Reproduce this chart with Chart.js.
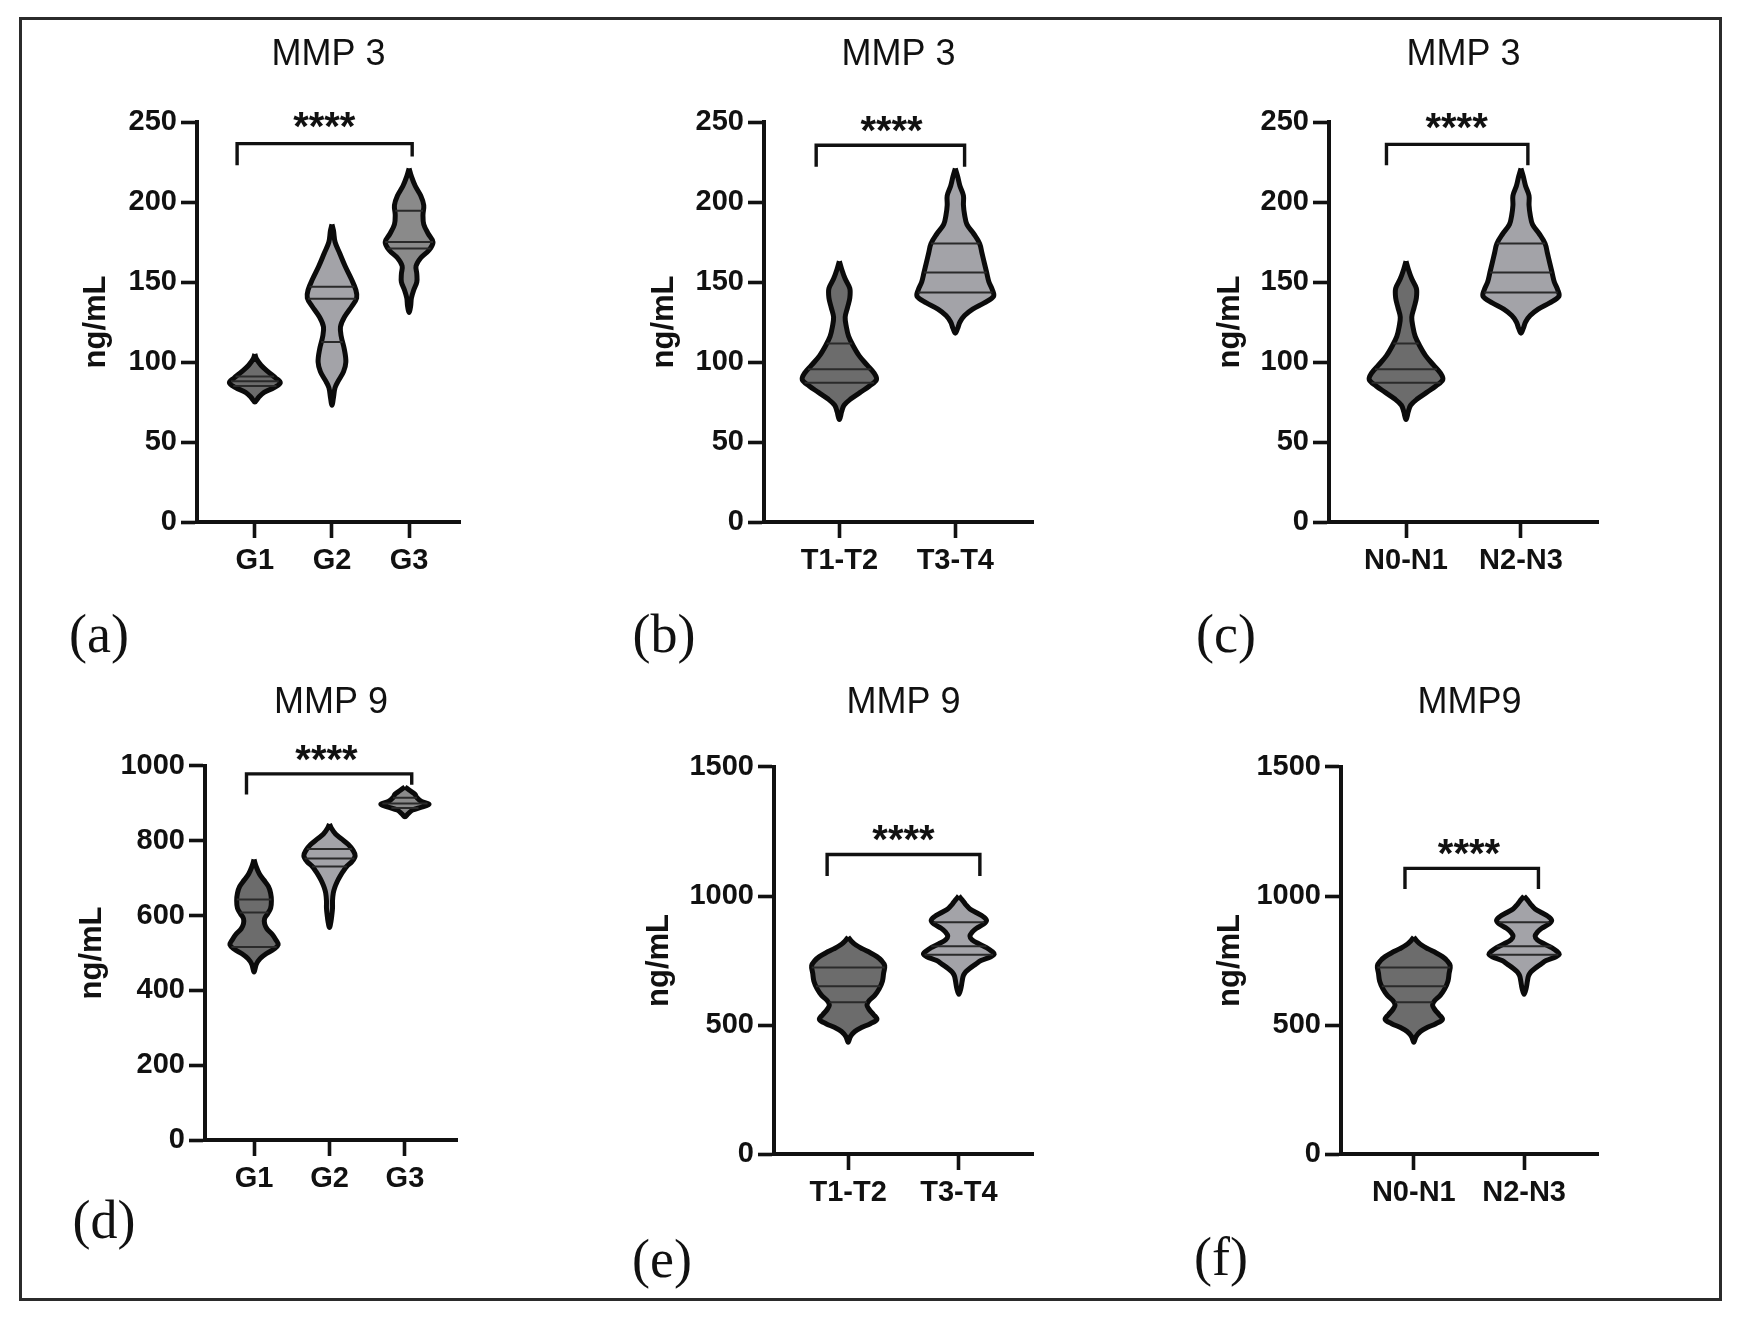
<!DOCTYPE html>
<html>
<head>
<meta charset="utf-8">
<script src="https://cdn.jsdelivr.net/npm/chart.js@4.4.1/dist/chart.umd.min.js"></script>
<style>
  body { margin: 0; background: #fff; width: 1741px; height: 1330px; position: relative; overflow: hidden; }
  .frame { position: absolute; left: 19px; top: 17px; width: 1703px; height: 1284px; border: 3px solid #2b2b2b; box-sizing: border-box; }
  .panel { position: absolute; }
  .tag { position: absolute; font-family: "Liberation Serif", "Times New Roman", serif; font-size: 54px; color: #111; transform: translate(-50%, -50%); line-height: 1; white-space: nowrap; }
</style>
</head>
<body>
<div class="frame"></div>
<canvas class="panel" id="pa"></canvas>
<canvas class="panel" id="pb"></canvas>
<canvas class="panel" id="pc"></canvas>
<canvas class="panel" id="pd"></canvas>
<canvas class="panel" id="pe"></canvas>
<canvas class="panel" id="pf"></canvas>
<div class="tag" style="left:99px;top:634px">(a)</div>
<div class="tag" style="left:664px;top:634px">(b)</div>
<div class="tag" style="left:1226px;top:634px">(c)</div>
<div class="tag" style="left:104px;top:1220px">(d)</div>
<div class="tag" style="left:662px;top:1259px">(e)</div>
<div class="tag" style="left:1221px;top:1257px">(f)</div>
<script>
// category labels
const gradeLabels = ["G1", "G2", "G3"];
const tLabels = ["T1-T2", "T3-T4"];
const nLabels = ["N0-N1", "N2-N3"];

// violin outlines: [ng/mL, half width in category units], top to bottom
const mmp3G1 = [[105,0],[102,0.02],[98,0.08],[94,0.17],[90,0.27],[87,0.33],[84,0.25],[81,0.12],[78,0.05],[75,0]];
const mmp3G2 = [[186,0],[182,0.02],[175,0.04],[168,0.1],[160,0.17],[152,0.25],[145,0.31],[140,0.32],[135,0.26],[128,0.16],[122,0.11],[116,0.12],[108,0.16],[100,0.18],[94,0.15],[88,0.08],[84,0.04],[78,0.02],[73,0]];
const mmp3G3 = [[221,0],[216,0.03],[210,0.08],[204,0.15],[198,0.19],[192,0.18],[186,0.19],[180,0.25],[175,0.31],[170,0.26],[165,0.15],[160,0.09],[155,0.1],[150,0.1],[145,0.06],[140,0.03],[135,0.02],[131,0]];
const mmp3T12 = [[163,0],[158,0.02],[152,0.05],[146,0.09],[140,0.09],[134,0.07],[128,0.05],[122,0.06],[116,0.08],[110,0.12],[104,0.17],[98,0.24],[93,0.3],[89,0.32],[85,0.26],[81,0.18],[77,0.1],[73,0.04],[69,0.02],[64,0]];
const mmp3T34 = [[221,0],[216,0.02],[210,0.04],[204,0.07],[198,0.07],[192,0.08],[186,0.1],[180,0.16],[174,0.21],[168,0.23],[162,0.25],[156,0.27],[150,0.29],[145,0.32],[141,0.33],[137,0.25],[133,0.15],[129,0.08],[125,0.04],[121,0.02],[118,0]];
const mmp3N01 = [[163,0],[158,0.02],[152,0.05],[146,0.09],[140,0.09],[134,0.07],[128,0.05],[122,0.06],[116,0.08],[110,0.12],[104,0.17],[98,0.24],[93,0.3],[89,0.32],[85,0.26],[81,0.18],[77,0.1],[73,0.04],[69,0.02],[64,0]];
const mmp3N23 = [[221,0],[216,0.02],[210,0.04],[204,0.07],[198,0.07],[192,0.08],[186,0.1],[180,0.16],[174,0.21],[168,0.23],[162,0.25],[156,0.27],[150,0.29],[145,0.32],[141,0.33],[137,0.25],[133,0.15],[129,0.08],[125,0.04],[121,0.02],[118,0]];
const mmp9G1 = [[750,0],[730,0.03],[712,0.07],[695,0.13],[678,0.19],[660,0.22],[640,0.23],[620,0.22],[605,0.18],[592,0.14],[578,0.14],[565,0.17],[550,0.24],[535,0.29],[522,0.32],[510,0.26],[498,0.16],[485,0.08],[470,0.03],[449,0]];
const mmp9G2 = [[845,0],[832,0.03],[818,0.08],[805,0.16],[790,0.25],[775,0.31],[760,0.34],[745,0.3],[732,0.23],[718,0.18],[705,0.14],[690,0.1],[675,0.07],[660,0.05],[640,0.04],[620,0.04],[600,0.03],[585,0.02],[568,0]];
const mmp9G3 = [[944,0],[935,0.06],[925,0.13],[915,0.16],[905,0.22],[898,0.32],[890,0.22],[882,0.1],[872,0.04],[864,0]];
const mmp9T12 = [[841,0],[825,0.03],[810,0.07],[795,0.13],[780,0.2],[765,0.26],[750,0.3],[730,0.33],[700,0.32],[670,0.31],[640,0.28],[615,0.24],[595,0.19],[578,0.17],[560,0.19],[540,0.23],[522,0.26],[505,0.2],[490,0.12],[475,0.06],[455,0.02],[433,0]];
const mmp9T34 = [[1000,0],[985,0.03],[968,0.06],[950,0.1],[935,0.16],[920,0.22],[905,0.25],[890,0.22],[875,0.16],[860,0.12],[845,0.1],[830,0.12],[815,0.18],[800,0.25],[785,0.3],[775,0.32],[765,0.29],[750,0.2],[735,0.15],[720,0.1],[705,0.06],[690,0.04],[670,0.03],[645,0.02],[619,0]];
const mmp9N01 = [[841,0],[825,0.03],[810,0.07],[795,0.13],[780,0.2],[765,0.26],[750,0.3],[730,0.33],[700,0.32],[670,0.31],[640,0.28],[615,0.24],[595,0.19],[578,0.17],[560,0.19],[540,0.23],[522,0.26],[505,0.2],[490,0.12],[475,0.06],[455,0.02],[433,0]];
const mmp9N23 = [[1000,0],[985,0.03],[968,0.06],[950,0.1],[935,0.16],[920,0.22],[905,0.25],[890,0.22],[875,0.16],[860,0.12],[845,0.1],[830,0.12],[815,0.18],[800,0.25],[785,0.3],[775,0.32],[765,0.29],[750,0.2],[735,0.15],[720,0.1],[705,0.06],[690,0.04],[670,0.03],[645,0.02],[619,0]];

// quartile lines (Q3, median, Q1): [ng/mL, half width]
const mmp3G1Q = [[91,0.25],[88,0.31],[85,0.28]];
const mmp3G2Q = [[147,0.29],[139.5,0.31],[112.5,0.14]];
const mmp3G3Q = [[194.5,0.18],[175,0.31],[171,0.28]];
const mmp3T12Q = [[111.5,0.11],[95.5,0.27],[87,0.3]];
const mmp3T34Q = [[174,0.21],[156,0.27],[143.5,0.32]];
const mmp9G1Q = [[643,0.23],[608,0.19],[516,0.3]];
const mmp9G2Q = [[778,0.3],[753,0.33],[731,0.23]];
const mmp9G3Q = [[915,0.16],[900,0.3],[888,0.18]];
const mmp9T12Q = [[723,0.33],[650,0.29],[588,0.17]];
const mmp9T34Q = [[898,0.23],[805,0.25],[772,0.31]];

// significance brackets [category, ng/mL] and star positions
const sigA = [[0.77,223],[0.77,236.5],[3.04,236.5],[3.04,228.5]];
const sigB = [[0.8,222],[0.8,235.5],[2.08,235.5],[2.08,222]];
const sigC = [[0.83,223],[0.83,236],[2.06,236],[2.06,223]];
const sigD = [[0.9,924],[0.9,979],[3.09,979],[3.09,950]];
const sigE = [[0.81,1078],[0.81,1161],[2.19,1161],[2.19,1078]];
const sigF = [[0.92,1027],[0.92,1107],[2.13,1107],[2.13,1027]];
const starsA = [1.9, 251];
const starsB = [1.45, 249];
const starsC = [1.44, 250.5];
const starsD = [1.96, 1034];
const starsE = [1.5, 1243];
const starsF = [1.5, 1190];

const DARK = '#6c6c6c', LIGHT = '#a3a3a8', MID = '#8a8a8a';
const SANS = '"Liberation Sans", Arial, sans-serif';
Chart.defaults.font.family = SANS;
Chart.defaults.color = '#111';

const starsPlugin = {
  id: 'stars',
  afterDatasetsDraw(chart, args, opts) {
    const { ctx, scales: { x, y } } = chart;
    ctx.save();
    ctx.font = 'bold 40px ' + SANS;
    ctx.fillStyle = '#111';
    ctx.textAlign = 'center';
    ctx.textBaseline = 'middle';
    ctx.fillText('****', x.getPixelForValue(opts.pos[0]), y.getPixelForValue(opts.pos[1]) + 9);
    ctx.restore();
  }
};

function violinPoints(profile, c) {
  const left = profile.map(([v, w]) => ({ x: c - w, y: v }));
  const right = profile.slice(0, -1).reverse().map(([v, w]) => ({ x: c + w, y: v }));
  return left.concat(right);
}

function quartilePoints(q, c) {
  const pts = [];
  q.forEach(([v, w]) => { pts.push({ x: c - w, y: v }, { x: c + w, y: v }, { x: c, y: null }); });
  return pts;
}

function makePanel(id, g, cfg) {
  const [bx, by, bw, bh] = g.box;
  const canvas = document.getElementById(id);
  canvas.width = bw; canvas.height = bh;
  canvas.style.left = bx + 'px'; canvas.style.top = by + 'px';
  const titleLH = 36 * 1.2, ylabLH = 31 * 1.2, xH = 62;
  const padL = g.labelX - ylabLH / 2 - bx;
  const yW = g.left - bx - padL;
  const padT = g.titleY - titleLH / 2 - by;

  const datasets = [];
  cfg.violins.forEach((v, i) => {
    datasets.push({
      data: violinPoints(v.profile, i + 1), backgroundColor: v.color, borderColor: '#0b0b0b',
      borderWidth: 5, fill: 'shape', tension: 0.35, pointRadius: 0, borderJoinStyle: 'round', order: 2, clip: false
    });
    datasets.push({
      data: quartilePoints(v.quart, i + 1), borderColor: '#2a2a2a', borderWidth: 2,
      fill: false, tension: 0, pointRadius: 0, spanGaps: false, order: 1, clip: false
    });
  });
  datasets.push({
    data: cfg.sig.map(([x, y]) => ({ x, y })), borderColor: '#111', borderWidth: 3.4,
    fill: false, tension: 0, pointRadius: 0, order: 0, clip: false
  });

  new Chart(canvas, {
    type: 'line',
    data: { datasets },
    plugins: [starsPlugin],
    options: {
      responsive: false, animation: false, events: [],
      layout: { padding: { left: padL, top: padT, right: bx + bw - g.right, bottom: by + bh - g.bottom - xH } },
      plugins: {
        legend: { display: false }, tooltip: { enabled: false },
        title: { display: true, text: cfg.title, fullSize: false, color: '#111',
          font: { size: 36, weight: 'normal', lineHeight: 1.2 },
          padding: { top: 0, bottom: g.top - g.titleY - titleLH / 2 } },
        stars: { pos: cfg.stars }
      },
      scales: {
        x: {
          type: 'linear', min: cfg.xmin, max: cfg.xmax,
          afterBuildTicks: s => { s.ticks = cfg.labels.map((_, i) => ({ value: i + 1 })); },
          afterFit: s => { s.height = xH; },
          ticks: { autoSkip: false, maxRotation: 0, padding: 6, color: '#111',
            font: { size: 29, weight: 'bold' }, callback: v => cfg.labels[v - 1] },
          grid: { display: true, drawOnChartArea: false, drawTicks: true, tickLength: 16, tickWidth: 3.6, tickColor: '#111' },
          border: { display: true, color: '#111', width: 4 }
        },
        y: {
          min: 0, max: cfg.ymax,
          afterFit: s => { s.width = yW; },
          ticks: { stepSize: cfg.ystep, padding: 4, color: '#111', font: { size: 29, weight: 'bold' },
            callback: v => String(v) },
          grid: { display: true, drawOnChartArea: false, drawTicks: true, tickLength: 16, tickWidth: 3.6, tickColor: '#111' },
          border: { display: true, color: '#111', width: 4 },
          title: { display: true, text: 'ng/mL', color: '#111', padding: { top: 0, bottom: 0 },
            font: { size: 31, weight: 'bold', lineHeight: 1.2 } }
        }
      }
    }
  });
}

makePanel('pa', { box: [30, 20, 540, 600], left: 197, right: 460, top: 122, bottom: 522, titleY: 55.5, labelX: 96 }, {
  title: 'MMP 3', labels: gradeLabels, xmin: 0.25, xmax: 3.66, ymax: 250, ystep: 50,
  violins: [{ profile: mmp3G1, quart: mmp3G1Q, color: DARK }, { profile: mmp3G2, quart: mmp3G2Q, color: LIGHT }, { profile: mmp3G3, quart: mmp3G3Q, color: MID }],
  sig: sigA, stars: starsA
});
makePanel('pb', { box: [600, 20, 540, 600], left: 764, right: 1033, top: 122, bottom: 522, titleY: 55.5, labelX: 664 }, {
  title: 'MMP 3', labels: tLabels, xmin: 0.35, xmax: 2.67, ymax: 250, ystep: 50,
  violins: [{ profile: mmp3T12, quart: mmp3T12Q, color: DARK }, { profile: mmp3T34, quart: mmp3T34Q, color: LIGHT }],
  sig: sigB, stars: starsB
});
makePanel('pc', { box: [1165, 20, 550, 600], left: 1329, right: 1598, top: 122, bottom: 522, titleY: 55.5, labelX: 1230 }, {
  title: 'MMP 3', labels: nLabels, xmin: 0.33, xmax: 2.67, ymax: 250, ystep: 50,
  violins: [{ profile: mmp3N01, quart: mmp3T12Q, color: DARK }, { profile: mmp3N23, quart: mmp3T34Q, color: LIGHT }],
  sig: sigC, stars: starsC
});
makePanel('pd', { box: [30, 660, 540, 580], left: 205, right: 457, top: 766, bottom: 1140, titleY: 703, labelX: 92 }, {
  title: 'MMP 9', labels: gradeLabels, xmin: 0.35, xmax: 3.69, ymax: 1000, ystep: 200,
  violins: [{ profile: mmp9G1, quart: mmp9G1Q, color: DARK }, { profile: mmp9G2, quart: mmp9G2Q, color: LIGHT }, { profile: mmp9G3, quart: mmp9G3Q, color: MID }],
  sig: sigD, stars: starsD
});
makePanel('pe', { box: [600, 660, 540, 590], left: 774, right: 1033, top: 767, bottom: 1154, titleY: 703, labelX: 659 }, {
  title: 'MMP 9', labels: tLabels, xmin: 0.33, xmax: 2.67, ymax: 1500, ystep: 500,
  violins: [{ profile: mmp9T12, quart: mmp9T12Q, color: DARK }, { profile: mmp9T34, quart: mmp9T34Q, color: LIGHT }],
  sig: sigE, stars: starsE
});
makePanel('pf', { box: [1165, 660, 550, 590], left: 1341, right: 1598, top: 767, bottom: 1154, titleY: 703, labelX: 1230 }, {
  title: 'MMP9', labels: nLabels, xmin: 0.34, xmax: 2.67, ymax: 1500, ystep: 500,
  violins: [{ profile: mmp9N01, quart: mmp9T12Q, color: DARK }, { profile: mmp9N23, quart: mmp9T34Q, color: LIGHT }],
  sig: sigF, stars: starsF
});
</script>
</body>
</html>
